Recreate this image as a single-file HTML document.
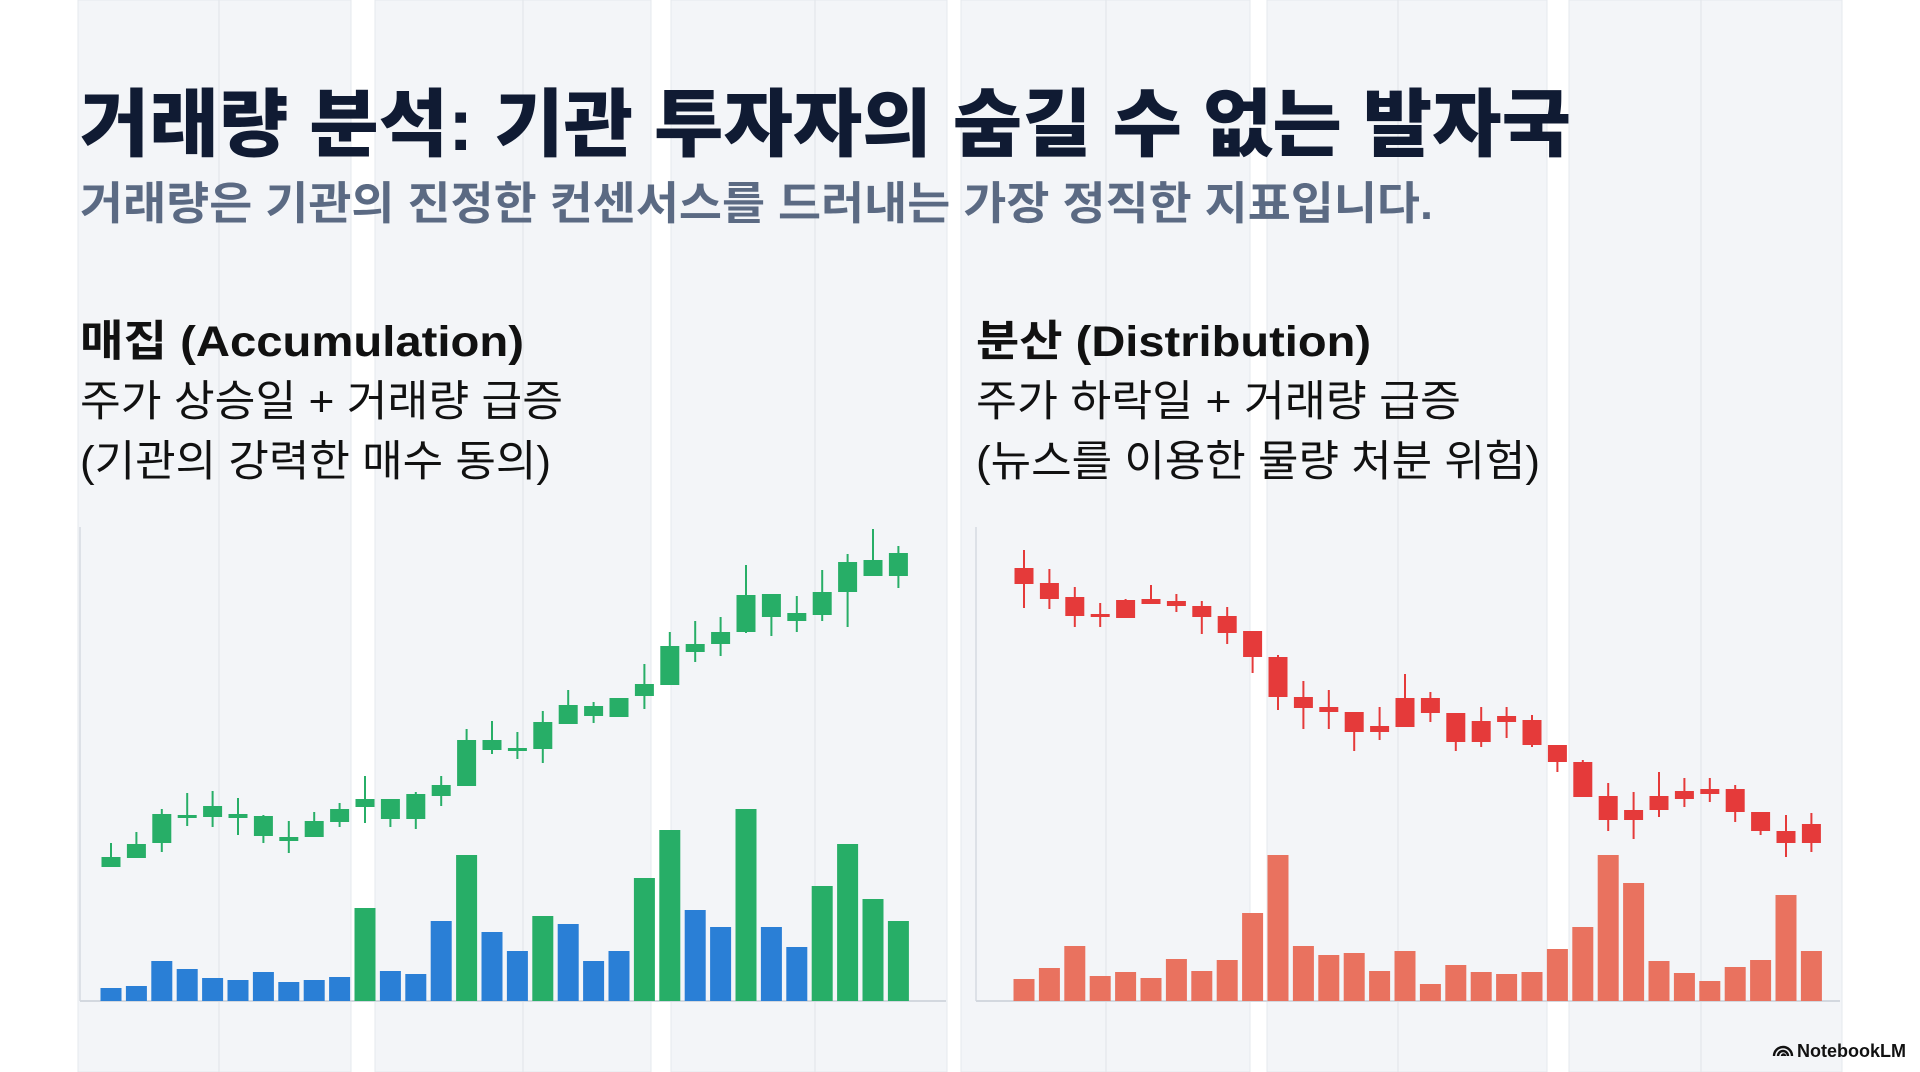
<!DOCTYPE html>
<html lang="ko">
<head>
<meta charset="utf-8">
<title>거래량 분석</title>
<style>
  html,body{margin:0;padding:0;background:#ffffff;}
  body{width:1920px;height:1072px;overflow:hidden;position:relative;}
  svg{display:block;}
  .kr{font-family:"Liberation Sans","Noto Sans CJK KR",sans-serif;}
</style>
</head>
<body>
<svg id="page" width="1920" height="1072" viewBox="0 0 1920 1072" xmlns="http://www.w3.org/2000/svg">
  <g id="bg"></g>

  <text class="kr" x="80" y="150" font-size="74" font-weight="900" fill="#101b33" textLength="1491" lengthAdjust="spacingAndGlyphs" font-family="Liberation Sans, Noto Sans CJK KR, sans-serif">거래량 분석: 기관 투자자의 숨길 수 없는 발자국</text>
  <text x="80" y="219" font-size="45" font-weight="700" fill="#5b6a83" textLength="1353" lengthAdjust="spacingAndGlyphs" font-family="Liberation Sans, Noto Sans CJK KR, sans-serif">거래량은 기관의 진정한 컨센서스를 드러내는 가장 정직한 지표입니다.</text>

  <text x="80" y="356" font-size="43" font-weight="700" fill="#111111" textLength="444" lengthAdjust="spacingAndGlyphs" font-family="Liberation Sans, Noto Sans CJK KR, sans-serif">매집 (Accumulation)</text>
  <text x="80" y="416" font-size="43" font-weight="400" fill="#111111" textLength="483" lengthAdjust="spacingAndGlyphs" font-family="Liberation Sans, Noto Sans CJK KR, sans-serif">주가 상승일 + 거래량 급증</text>
  <text x="80" y="476" font-size="43" font-weight="400" fill="#111111" textLength="471" lengthAdjust="spacingAndGlyphs" font-family="Liberation Sans, Noto Sans CJK KR, sans-serif">(기관의 강력한 매수 동의)</text>

  <text x="976" y="356" font-size="43" font-weight="700" fill="#111111" textLength="395" lengthAdjust="spacingAndGlyphs" font-family="Liberation Sans, Noto Sans CJK KR, sans-serif">분산 (Distribution)</text>
  <text x="976" y="416" font-size="43" font-weight="400" fill="#111111" textLength="485" lengthAdjust="spacingAndGlyphs" font-family="Liberation Sans, Noto Sans CJK KR, sans-serif">주가 하락일 + 거래량 급증</text>
  <text x="976" y="476" font-size="43" font-weight="400" fill="#111111" textLength="564" lengthAdjust="spacingAndGlyphs" font-family="Liberation Sans, Noto Sans CJK KR, sans-serif">(뉴스를 이용한 물량 처분 위험)</text>

  <g id="accChart"></g>
  <g id="disChart"></g>

  <g>
    <path d="M1774 1056 a9 9 0 0 1 18 0 M1778 1056 a5 5 0 0 1 10 0 M1782 1056 a1.5 1.5 0 0 1 3 0" fill="none" stroke="#111" stroke-width="2.4"/>
    <text x="1797" y="1057" font-size="18" font-weight="700" fill="#111" font-family="Liberation Sans, sans-serif">NotebookLM</text>
  </g>
</svg>

<script>
// ---- Accumulation chart data (price units; volume units) ----
const accO = [143,152,167,192,193,192,174,169,173,188,203,191,191,214,224,260,259,261,286,294,293,314,325,358,366,378,393,389,395,418,434,434];
const accC = [153,166,196,195,204,196,194,173,189,201,211,211,216,225,270,270,262,288,305,304,312,326,364,366,378,415,416,397,418,448,450,457];
const accH = [167,178,201,217,219,212,195,189,198,207,234,211,218,234,281,289,278,299,320,308,312,346,378,389,393,445,416,414,440,456,481,464];
const accL = [143,152,158,184,183,175,167,157,173,183,187,183,181,204,224,256,251,247,286,287,293,301,325,348,354,377,374,378,389,383,434,422];
const accVol = [13,15,40,32,23,21,29,19,21,24,93,30,27,80,146,69,50,85,77,40,50,123,171,91,74,192,74,54,115,157,102,80];
const accVolUp = [0,0,0,0,0,0,0,0,0,0,1,0,0,0,1,0,0,1,0,0,0,1,1,0,0,1,0,0,1,1,1,1];

// ---- Distribution chart data ----
const disO = [442,427,413,396,410,411,409,404,394,379,353,313,303,298,284,312,312,297,289,294,290,265,248,214,200,214,219,221,221,198,179,186];
const disC = [426,411,394,393,392,406,404,393,377,353,313,302,298,278,278,283,297,268,268,288,265,248,213,190,190,200,211,216,198,179,167,167];
const disH = [460,441,423,407,411,425,416,409,403,379,355,329,320,298,303,336,318,297,303,303,295,265,250,227,218,238,232,232,225,198,195,197];
const disL = [402,401,383,383,392,406,398,376,366,337,300,281,281,259,270,283,288,259,263,272,263,238,213,179,171,193,203,208,188,175,153,158];
const disVol = [22,33,55,25,29,23,42,30,41,88,146,55,46,48,30,50,17,36,29,27,29,52,74,146,118,40,28,20,34,41,106,50];

const NS = 'http://www.w3.org/2000/svg';
function mk(tag, attrs, parent){
  const e = document.createElementNS(NS, tag);
  for (const k in attrs) e.setAttribute(k, attrs[k]);
  parent.appendChild(e);
  return e;
}

// background bands
const bg = document.getElementById('bg');
const bandL = [78,375,671,961,1267,1569];
const bandR = [351,651,947,1250,1547,1842];
for (let i=0;i<bandL.length;i++){
  const r = mk('rect',{x:bandL[i],y:0,width:bandR[i]-bandL[i],height:1072,fill:'#f3f5f8',stroke:'#e6e9ee','stroke-width':1},bg);
  
  
}
const thin = [219,523,815,1106,1398,1701];
for (const x of thin){
  const l = mk('line',{x1:x,y1:0,x2:x,y2:1072,stroke:'#e3e6eb','stroke-width':1.2},bg);
  
  
}

// axis functions
function xScale(x0, i){ return x0 + i*25.4; }
function priceY(p){ return 1010 - p; }
function volY(v){ return 1001 - v; }

function drawChart(g, x0, axisX, axisRight, O, C, H, L, V, upCol, downCol, volColFn){
  const ax = mk('line',{x1:axisX,y1:527,x2:axisX,y2:1001,stroke:'#dde1e7','stroke-width':2},g);
  
  
  const bx = mk('line',{x1:axisX,y1:1001,x2:axisRight,y2:1001,stroke:'#d3d8df','stroke-width':2},g);
  
  
  for (let i=0;i<V.length;i++){
    const cx = xScale(x0,i);
    const vb = mk('rect',{x:cx-10.5,y:volY(V[i]),width:21,height:V[i],fill:volColFn(i)},g);
    
    
  }
  for (let i=0;i<O.length;i++){
    const cx = xScale(x0,i);
    const col = C[i] >= O[i] ? upCol : downCol;
    const w = mk('line',{x1:cx,y1:priceY(H[i]),x2:cx,y2:priceY(L[i]),stroke:col,'stroke-width':2},g);
    
    
    const top = priceY(Math.max(O[i],C[i]));
    const h = Math.max(3, Math.abs(O[i]-C[i]));
    const b = mk('rect',{x:cx-9.5,y:top,width:19,height:h,fill:col},g);
    
    
  }
}

drawChart(document.getElementById('accChart'), 111, 80, 946, accO, accC, accH, accL, accVol,
  '#27ae67', '#27ae67', i => accVolUp[i] ? '#27ae67' : '#2a7fd6');
drawChart(document.getElementById('disChart'), 1024, 976, 1840, disO, disC, disH, disL, disVol,
  '#e53a3a', '#e53a3a', i => '#e9725f');
</script>
</body>
</html>
